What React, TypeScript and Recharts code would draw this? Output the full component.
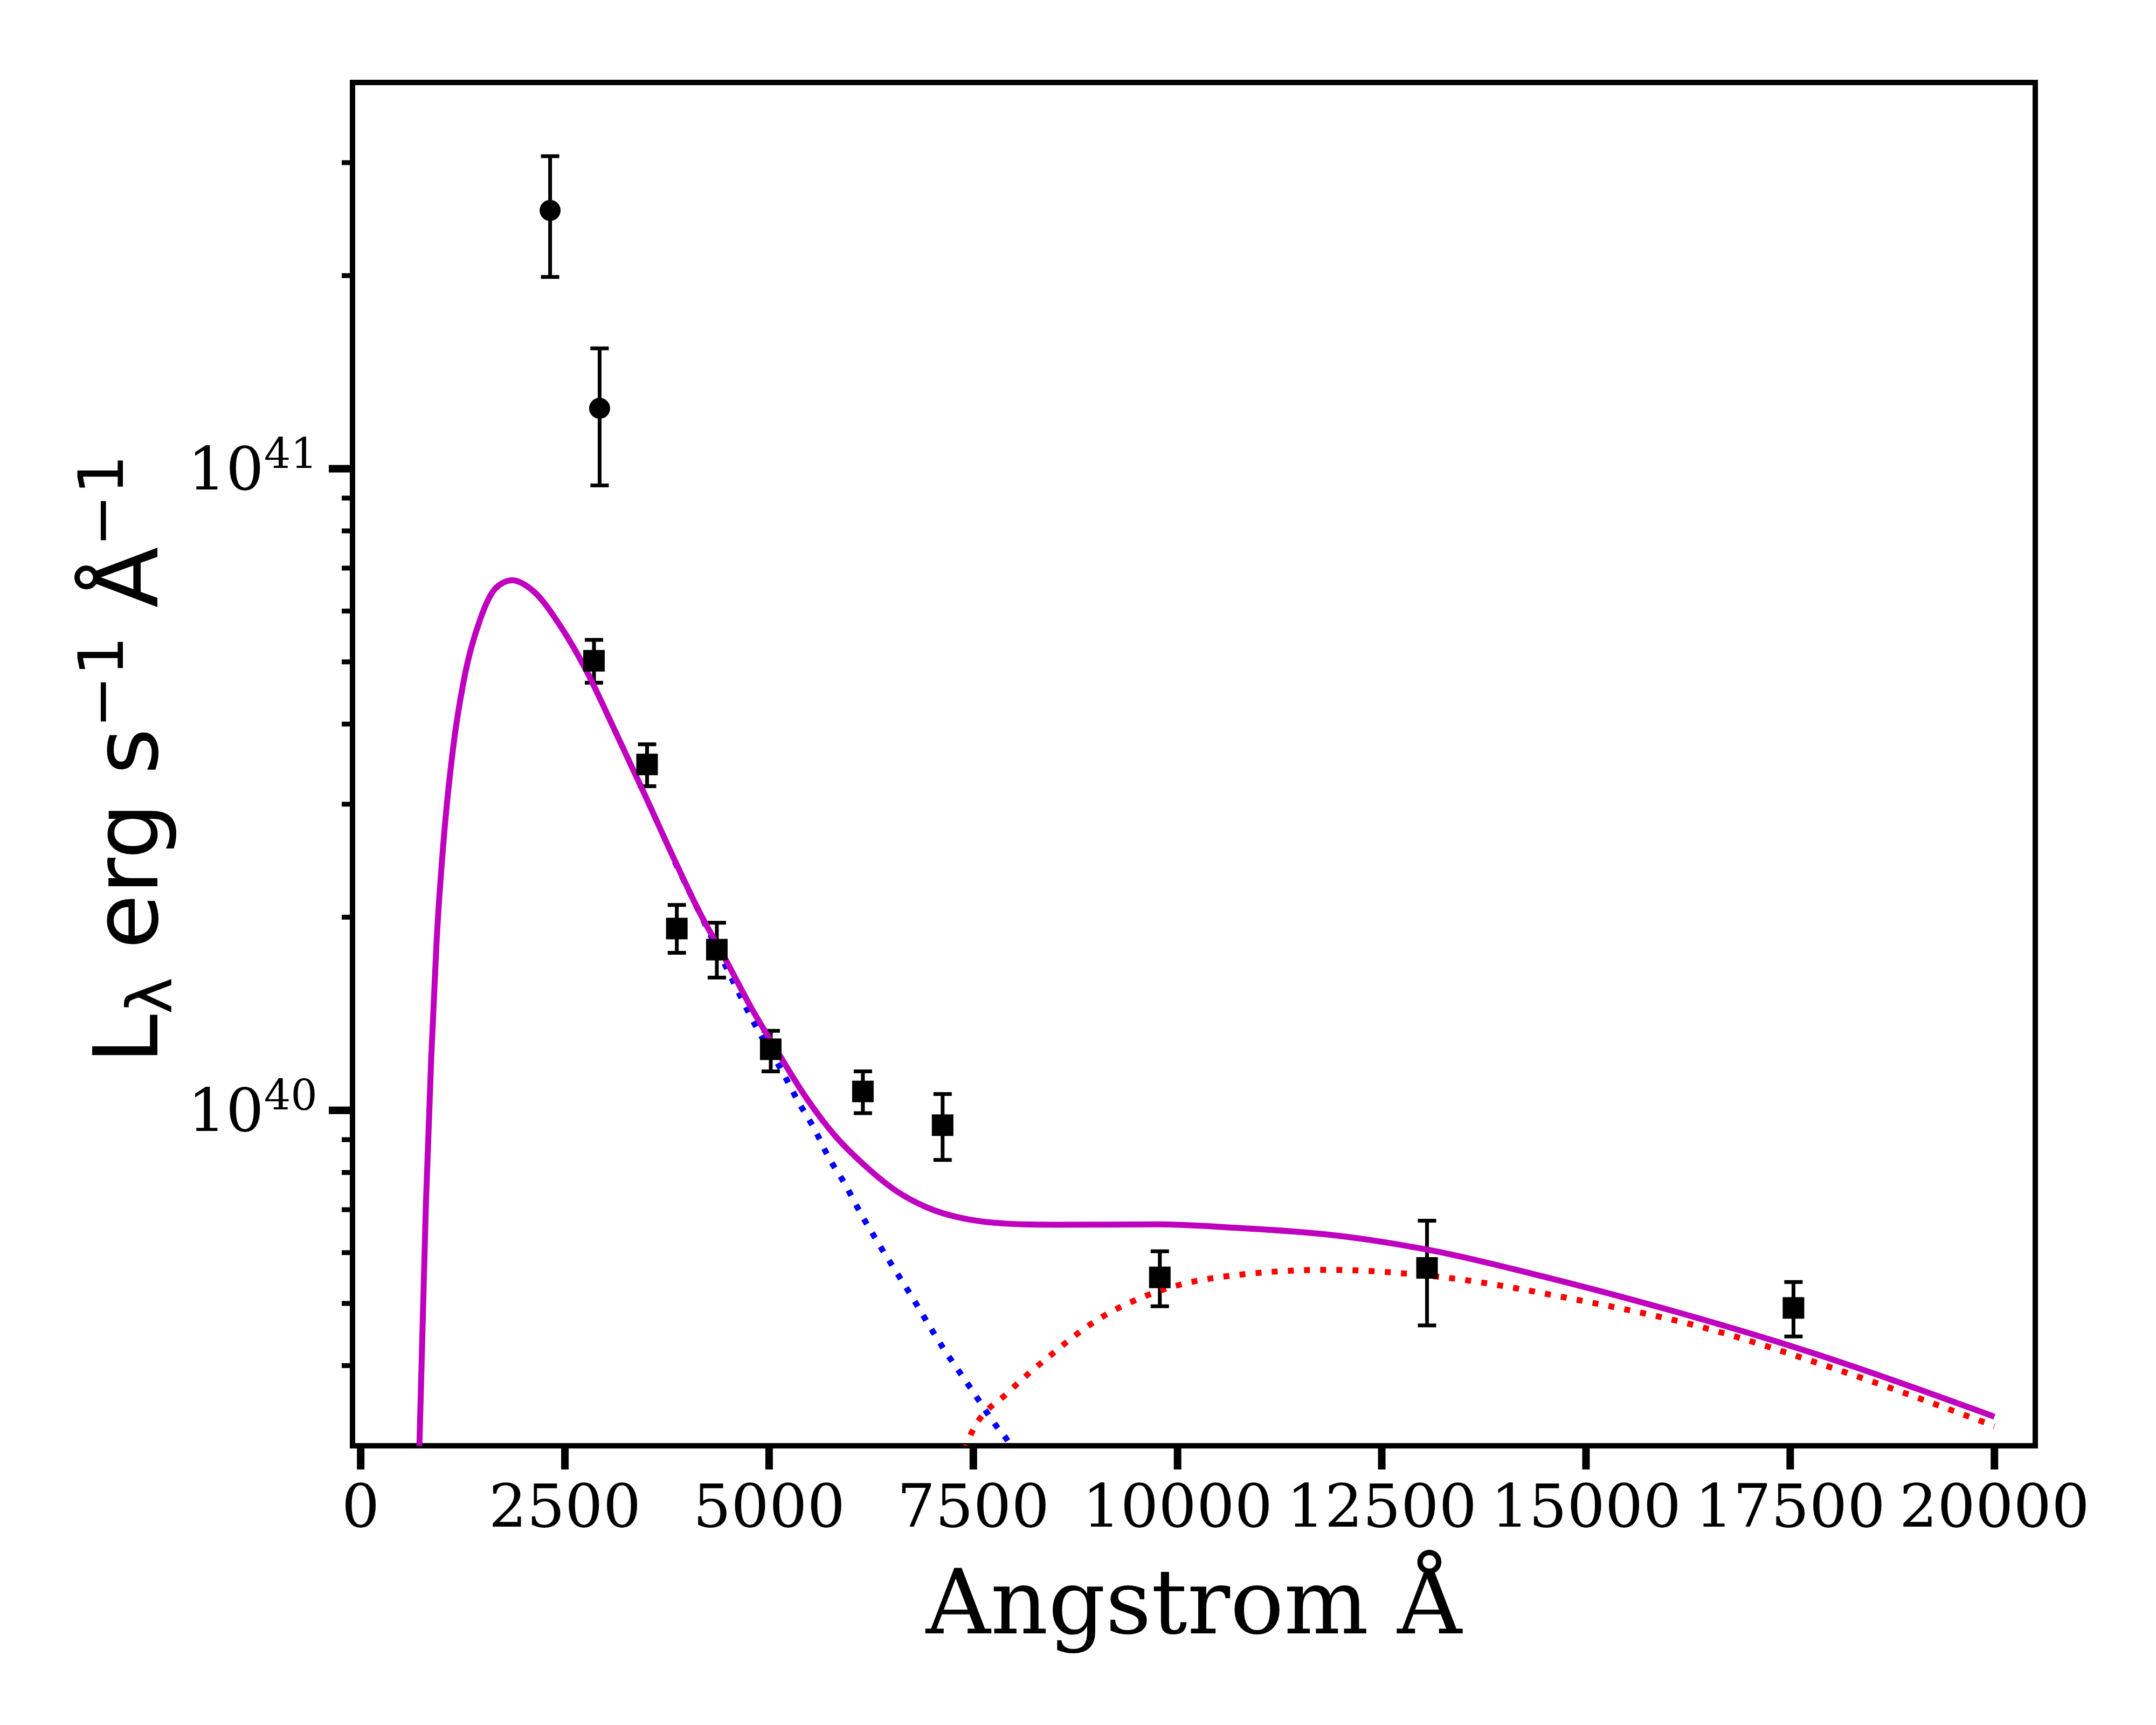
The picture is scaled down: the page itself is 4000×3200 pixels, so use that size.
import React from 'react';
import { ComposedChart, Line, Scatter, ErrorBar, XAxis, YAxis, ReferenceArea } from 'recharts';

// photometry points (Angstrom, L_lambda) with error bar ends
const circleX = [2319, 2925];
const circleY = [2.527e41, 1.242e41];
const circleLo = [1.99e41, 9.42e40];
const circleHi = [3.07e41, 1.54e41];

const squareX = [2856, 3506, 3870, 4360, 5020, 6148, 7124, 9783, 13054, 17540];
const squareY = [5.02e40, 3.46e40, 1.92e40, 1.78e40, 1.245e40, 1.07e40, 9.48e39, 5.49e39, 5.68e39, 4.92e39];
const squareLo = [4.64e40, 3.2e40, 1.76e40, 1.61e40, 1.15e40, 9.9e39, 8.37e39, 4.95e39, 4.62e39, 4.44e39];
const squareHi = [5.41e40, 3.72e40, 2.09e40, 1.96e40, 1.33e40, 1.15e40, 1.06e40, 6.03e39, 6.73e39, 5.4e39];

// total model (magenta)
const totalX = [700, 719, 798, 864, 930, 1016, 1128, 1280, 1458, 1656, 1854, 2117, 2447, 2750, 3087, 3470, 3846, 4162, 4465, 4793, 5096, 5424, 5803, 6182, 6561, 6940, 7444, 8120, 8490, 9756, 10700, 12078, 13100, 14446, 16030, 17613, 20000];
const totalY = [2.5e39, 3.0e39, 7.1e39, 1.21e40, 1.84e40, 2.64e40, 3.64e40, 4.8e40, 5.8e40, 6.52e40, 6.7e40, 6.44e40, 5.68e40, 4.88e40, 3.97e40, 3.12e40, 2.45e40, 2.02e40, 1.72e40, 1.436e40, 1.238e40, 1.06e40, 9.14e39, 8.18e39, 7.48e39, 7.05e39, 6.76e39, 6.64e39, 6.63e39, 6.64e39, 6.56e39, 6.35e39, 6.05e39, 5.52e39, 4.88e39, 4.25e39, 3.33e39];

// hot component (blue dotted), visible part
const hotX = [3846, 4380, 4868, 5176, 5362, 5555, 5728, 5930, 6118, 6306, 6728, 7131, 7461, 7790, 7909, 7990];
const hotY = [2.44e40, 1.77e40, 1.33e40, 1.14e40, 1.029e40, 9.35e39, 8.45e39, 7.67e39, 6.92e39, 6.3e39, 5.17e39, 4.26e39, 3.7e39, 3.21e39, 3.07e39, 2.95e39];

// cool component (red dotted)
const coolX = [7400, 7447, 7955, 8404, 8991, 9703, 10495, 11840, 13260, 14842, 16425, 18008, 20000];
const coolY = [2.95e39, 3.08e39, 3.66e39, 4.11e39, 4.69e39, 5.19e39, 5.49e39, 5.64e39, 5.49e39, 5.08e39, 4.59e39, 3.97e39, 3.22e39];

const xTicks = [0, 2500, 5000, 7500, 10000, 12500, 15000, 17500, 20000];
const yTicks = [4e39, 5e39, 6e39, 7e39, 8e39, 9e39, 1e40, 2e40, 3e40, 4e40, 5e40, 6e40, 7e40, 8e40, 9e40, 1e41, 2e41, 3e41];

const toPoints = (xs: number[], ys: number[]) => xs.map((x, i) => ({ x, y: ys[i] }));
const toErrPoints = (xs: number[], ys: number[], lo: number[], hi: number[]) =>
  xs.map((x, i) => ({ x, y: ys[i], err: [ys[i] - lo[i], hi[i] - ys[i]] }));

const circles = toErrPoints(circleX, circleY, circleLo, circleHi);
const squares = toErrPoints(squareX, squareY, squareLo, squareHi);
const total = toPoints(totalX, totalY);
const hot = toPoints(hotX, hotY);
const cool = toPoints(coolX, coolY);

const XTick = (props: any) => {
  const { x, y, payload } = props;
  return (
    <g>
      <line x1={x} y1={y} x2={x} y2={y + 44} stroke="#000" strokeWidth={14} />
      <text x={x} y={y + 150} textAnchor="middle" fontFamily="DejaVu Serif" fontSize={111} fill="#000">
        {payload.value}
      </text>
    </g>
  );
};

const YTick = (props: any) => {
  const { x, y, payload } = props;
  const exp = Math.log10(payload.value);
  const major = Math.abs(exp - Math.round(exp)) < 1e-6;
  if (!major) {
    return <line x1={x - 20} y1={y} x2={x} y2={y} stroke="#000" strokeWidth={9} />;
  }
  return (
    <g>
      <line x1={x - 44} y1={y} x2={x} y2={y} stroke="#000" strokeWidth={14} />
      <text x={x - 65} y={y + 38} textAnchor="end" fontFamily="DejaVu Serif" fontSize={111} fill="#000">
        <tspan>10</tspan>
        <tspan dy={-39} fontSize={78}>{Math.round(exp)}</tspan>
      </text>
    </g>
  );
};

const renderXLabel = (props: any) => {
  const vb = props.viewBox;
  if (!vb) return null;
  return (
    <text x={vb.x + vb.width / 2} y={vb.y + 348} textAnchor="middle" fontFamily="DejaVu Serif" fontSize={166} fill="#000">
      Angstrom Å
    </text>
  );
};

const renderYLabel = (props: any) => {
  const vb = props.viewBox;
  if (!vb) return null;
  const cx = vb.x + vb.width - 362;
  const cy = vb.y + vb.height / 2 - 9;
  return (
    <text
      x={cx}
      y={cy}
      transform={`rotate(-90, ${cx}, ${cy})`}
      textAnchor="middle"
      fontFamily="DejaVu Sans"
      fontSize={165}
      fill="#000"
    >
      <tspan>L</tspan>
      <tspan dy={26} fontSize={116}>λ</tspan>
      <tspan dy={-26}> erg s</tspan>
      <tspan dy={-64} fontSize={116}>−1</tspan>
      <tspan dy={64}> Å</tspan>
      <tspan dy={-64} fontSize={116}>−1</tspan>
    </text>
  );
};

const CircleMark = (props: any) => <circle cx={props.cx} cy={props.cy} r={19.5} fill="#000" />;
const SquareMark = (props: any) => <rect x={props.cx - 20} y={props.cy - 20} width={40} height={40} fill="#000" />;

export default function App() {
  return (
    <div style={{ position: 'absolute', left: 0, top: 0, width: 4000, height: 3200, background: '#fff' }}>
      <ComposedChart width={4000} height={3200} margin={{ top: 153, right: 224, bottom: 118, left: 254 }}>
        <XAxis
          type="number"
          dataKey="x"
          domain={[-100, 20500]}
          ticks={xTicks}
          interval={0}
          allowDataOverflow
          axisLine={false}
          tickLine={false}
          tickSize={0}
          tickMargin={0}
          height={400}
          tick={<XTick />}
          label={{ position: 'insideBottom', content: renderXLabel }}
        />
        <YAxis
          type="number"
          dataKey="y"
          scale="log"
          domain={[3e39, 4e41]}
          ticks={yTicks}
          interval={0}
          allowDataOverflow
          axisLine={false}
          tickLine={false}
          tickSize={0}
          tickMargin={0}
          width={400}
          tick={<YTick />}
          label={{ position: 'insideLeft', content: renderYLabel }}
        />
        <Scatter data={circles} shape={<CircleMark />} isAnimationActive={false}>
          <ErrorBar dataKey="err" direction="y" width={17} stroke="#000" strokeWidth={7} />
        </Scatter>
        <Scatter data={squares} shape={<SquareMark />} isAnimationActive={false}>
          <ErrorBar dataKey="err" direction="y" width={17} stroke="#000" strokeWidth={7} />
        </Scatter>
        <Line data={hot} dataKey="y" type="monotone" stroke="#0000ff" strokeWidth={11} strokeDasharray="11 19" dot={false} isAnimationActive={false} />
        <Line data={cool} dataKey="y" type="monotone" stroke="#ff0000" strokeWidth={11} strokeDasharray="11 19" dot={false} isAnimationActive={false} />
        <Line data={total} dataKey="y" type="monotone" stroke="#bf00bf" strokeWidth={11} dot={false} isAnimationActive={false} />
        <ReferenceArea x1={-100} x2={20500} y1={3e39} y2={4e41} fill="none" stroke="#000" strokeWidth={10} />
      </ComposedChart>
    </div>
  );
}
